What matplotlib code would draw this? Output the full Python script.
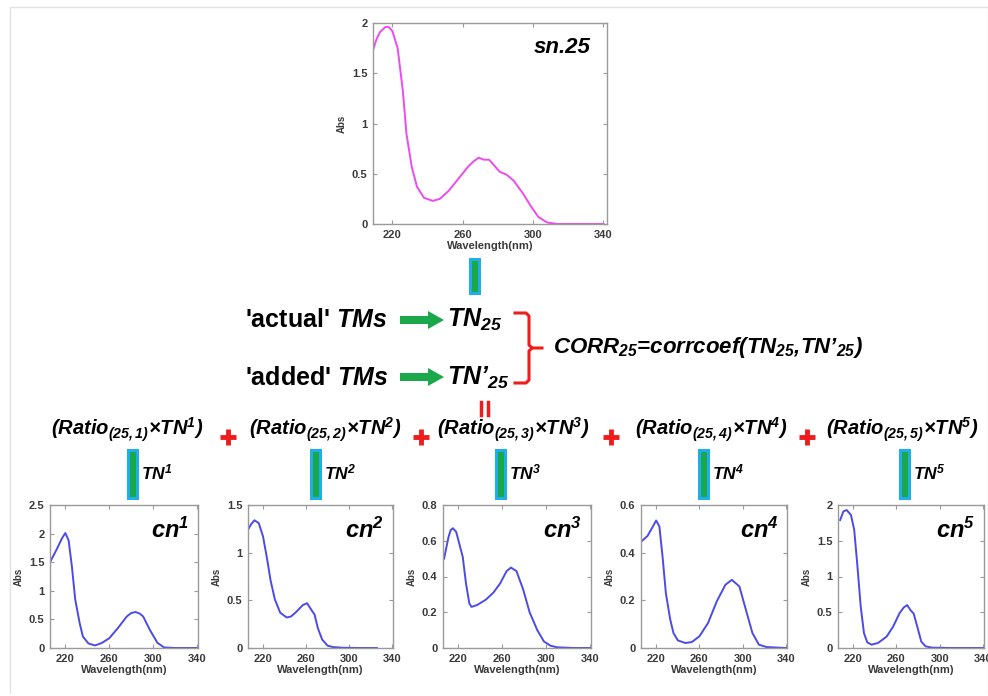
import numpy as np
import matplotlib
matplotlib.use("Agg")
import matplotlib.pyplot as plt
from matplotlib.ticker import FormatStrFormatter

# ============================================================
# Data
# ============================================================

sn25_wl = [209, 211, 213, 216, 218, 220, 223, 226, 228, 231, 234, 238, 243, 247, 252, 258,
           263, 266, 269, 272, 275, 278, 281, 285, 289, 294, 299, 303, 308, 314, 325, 340]
sn25_abs = [1.73, 1.84, 1.91, 1.96, 1.96, 1.92, 1.75, 1.32, 0.90, 0.57, 0.37, 0.26, 0.23, 0.25,
            0.33, 0.46, 0.57, 0.62, 0.66, 0.64, 0.64, 0.58, 0.52, 0.49, 0.43, 0.31, 0.17, 0.07,
            0.015, 0.0, 0.0, 0.0]

cn1_wl = [206, 212, 217, 220, 223, 226, 229, 233, 236, 241, 247, 253, 260, 268, 276,
          280, 284, 288, 291, 297, 304, 310, 320, 340]
cn1_abs = [1.50, 1.72, 1.92, 2.01, 1.88, 1.42, 0.85, 0.44, 0.20, 0.08, 0.045, 0.085, 0.17, 0.35, 0.55,
           0.61, 0.63, 0.60, 0.55, 0.32, 0.09, 0.01, 0.0, 0.0]

cn2_wl = [206, 209, 212, 216, 220, 224, 227, 231, 236, 242, 246, 251, 257, 261, 265,
          268, 271, 275, 280, 285, 294, 310, 326]
cn2_abs = [1.24, 1.30, 1.34, 1.31, 1.17, 0.92, 0.71, 0.51, 0.37, 0.32, 0.33, 0.38, 0.45, 0.47, 0.40,
           0.35, 0.21, 0.09, 0.025, 0.01, 0.003, 0.0, 0.0]

cn3_wl = [207, 211, 213, 215, 218, 221, 224, 227, 230, 232, 237, 245, 252, 258, 264, 268,
          273, 279, 285, 292, 298, 304, 310, 325, 340]
cn3_abs = [0.50, 0.62, 0.66, 0.67, 0.65, 0.58, 0.51, 0.36, 0.25, 0.23, 0.24, 0.27, 0.31, 0.36, 0.43,
           0.45, 0.43, 0.33, 0.20, 0.10, 0.037, 0.013, 0.004, 0.0, 0.0]

cn4_wl = [207, 212, 217, 220, 223, 226, 229, 233, 236, 240, 247, 253, 260, 268, 276,
          284, 290, 297, 303, 309, 315, 322, 340]
cn4_abs = [0.45, 0.47, 0.51, 0.535, 0.51, 0.38, 0.23, 0.12, 0.063, 0.032, 0.021, 0.025, 0.049, 0.105, 0.195,
           0.265, 0.286, 0.258, 0.16, 0.063, 0.014, 0.004, 0.0]

cn5_wl = [208, 211, 214, 218, 221, 224, 227, 230, 233, 237, 243, 251, 257, 263, 267,
          270, 273, 276, 280, 283, 287, 293, 310, 340]
cn5_abs = [1.79, 1.91, 1.93, 1.86, 1.65, 1.14, 0.58, 0.21, 0.08, 0.047, 0.07, 0.16, 0.30, 0.49, 0.57,
           0.60, 0.53, 0.48, 0.26, 0.09, 0.023, 0.005, 0.0, 0.0]

cn_labels = ["1", "2", "3", "4", "5"]
cn_ylims = [2.5, 1.5, 0.8, 0.6, 2.0]
cn_ysteps = [0.5, 0.5, 0.2, 0.2, 0.5]

# ============================================================
# Style
# ============================================================

W, H = 988, 696
plt.rcParams["font.family"] = ["Liberation Sans", "DejaVu Sans"]
plt.rcParams["mathtext.fontset"] = "custom"
plt.rcParams["mathtext.rm"] = "Liberation Sans:italic:bold"
plt.rcParams["mathtext.it"] = "Liberation Sans:italic:bold"
plt.rcParams["mathtext.bf"] = "Liberation Sans:italic:bold"

GREEN = "#1aa84a"
CYAN = "#1eaeea"
RED = "#ee1c1c"
MAGENTA = "#ee4bee"
BLUE = "#4b4be6"
GRAY = "#9a9a9a"
TXT = "#3a3a3a"

fig = plt.figure(figsize=(W / 100, H / 100), dpi=100)
fig.patch.set_facecolor("white")

# overlay axes in pixel coordinates for the diagram parts
ov = fig.add_axes([0, 0, 1, 1])
ov.set_xlim(0, W)
ov.set_ylim(H, 0)
ov.axis("off")


def px_axes(left, top, right, bottom):
    return fig.add_axes([left / W, 1 - bottom / H, (right - left) / W, (bottom - top) / H])


def style_spectrum(ax, ymax, ystep, xlim=(206, 341)):
    ax.set_xlim(*xlim)
    ax.set_ylim(0, ymax)
    ax.set_xticks([220, 260, 300, 340])
    ax.set_yticks(np.arange(0, ymax + 1e-9, ystep))
    ax.yaxis.set_major_formatter(FormatStrFormatter("%g"))
    ax.tick_params(direction="in", length=3, width=0.8, color=GRAY,
                   top=True, right=True, labelsize=8, labelcolor=TXT, pad=4)
    for lab in ax.get_xticklabels() + ax.get_yticklabels():
        lab.set_fontweight("bold")
    for s in ax.spines.values():
        s.set_color(GRAY)
        s.set_linewidth(1.0)
    ax.set_xlabel("Wavelength(nm)", fontsize=8, fontweight="bold", color=TXT, labelpad=1)
    ax.set_ylabel("Abs", fontsize=7, fontweight="bold", color=TXT, labelpad=4)


def connector(x, y0, y1):
    ov.add_patch(plt.Rectangle((x - 6, y0), 12, y1 - y0, facecolor=CYAN, edgecolor="none", zorder=3))
    ov.add_patch(plt.Rectangle((x - 3, y0 + 3), 6, y1 - y0 - 6, facecolor=GREEN, edgecolor="none", zorder=4))


# light frame of the screenshot
ov.plot([10, 10, W, W], [H - 3, 7, 7, H - 3], color="#e2e2e2", lw=1.0)

# ============================================================
# Top spectrum (sn.25)
# ============================================================

ax_top = px_axes(373, 23, 607, 224)
ax_top.plot(sn25_wl, sn25_abs, color=MAGENTA, lw=1.4)
style_spectrum(ax_top, 2.0, 0.5, xlim=(209, 342))
ax_top.text(0.93, 0.88, "sn.25", transform=ax_top.transAxes, ha="right", va="center",
            fontsize=16, fontweight="bold", fontstyle="italic")

connector(475, 258, 295)

# ============================================================
# Middle diagram
# ============================================================

big = dict(fontsize=18, fontweight="bold", va="center", color="black")
ov.text(245, 320, "'actual' $TMs$", ha="left", **big)
ov.text(245, 378, "'added' $TMs$", ha="left", **big)
for yy in [320, 377]:
    ov.add_patch(plt.Polygon([[400, yy - 4], [428, yy - 4], [428, yy - 9], [444, yy],
                              [428, yy + 9], [428, yy + 4], [400, yy + 4]],
                             closed=True, facecolor=GREEN, edgecolor="none"))
ov.text(447, 320, "TN$_{25}$", ha="left", fontstyle="italic", **big)
ov.text(447, 378, "TN\u2019$_{25}$", ha="left", fontstyle="italic", **big)

# red bracket
ov.plot([515, 526, 529, 529, 532, 542], [313, 313, 316, 345, 348, 348], color=RED, lw=2.2,
        solid_joinstyle="round")
ov.plot([515, 526, 529, 529, 532], [383, 383, 380, 351, 348], color=RED, lw=2.2,
        solid_joinstyle="round")
ov.text(553, 348, "CORR$_{25}$=corrcoef(TN$_{25}$,TN\u2019$_{25}$)", ha="left", va="center",
        fontsize=16, fontweight="bold", fontstyle="italic")

# red vertical equals sign
ov.plot([481, 481], [402, 415], color=RED, lw=2.5)
ov.plot([488, 488], [402, 415], color=RED, lw=2.5)

# ratio row
ratio_x = [127, 325, 513, 711, 902]
for i, cx in enumerate(ratio_x):
    ov.text(cx, 430, "(Ratio$_{(25,%s)}$\u00d7TN$^{%s}$)" % (cn_labels[i], cn_labels[i]),
            ha="center", va="center", fontsize=14.5, fontweight="bold", fontstyle="italic")

plus_x = [228, 421, 611, 807]
for cx in plus_x:
    ov.plot([cx - 8, cx + 8], [437, 437], color=RED, lw=3.5, solid_capstyle="butt")
    ov.plot([cx, cx], [429, 445], color=RED, lw=3.5, solid_capstyle="butt")

# ============================================================
# Bottom spectra (cn1 .. cn5)
# ============================================================

bottom_boxes = [(50, 198), (248, 393), (443, 591), (641, 787), (838, 984)]
bar_x = [133, 316, 501, 704, 905]
cn_data = [(cn1_wl, cn1_abs), (cn2_wl, cn2_abs), (cn3_wl, cn3_abs),
           (cn4_wl, cn4_abs), (cn5_wl, cn5_abs)]

for i in range(5):
    connector(bar_x[i], 449, 500)
    ov.text(bar_x[i] + 8, 472, "TN$^{%s}$" % cn_labels[i], ha="left", va="center",
            fontsize=12.5, fontweight="bold", fontstyle="italic")

    l, r = bottom_boxes[i]
    ax = px_axes(l, 505, r, 648)
    ax.plot(cn_data[i][0], cn_data[i][1], color=BLUE, lw=1.4)
    style_spectrum(ax, cn_ylims[i], cn_ysteps[i])
    ax.text(0.94, 0.82, "cn$^{%s}$" % cn_labels[i], transform=ax.transAxes, ha="right",
            va="center", fontsize=17, fontweight="bold", fontstyle="italic")

fig.savefig("out.png", dpi=100, facecolor="white")
